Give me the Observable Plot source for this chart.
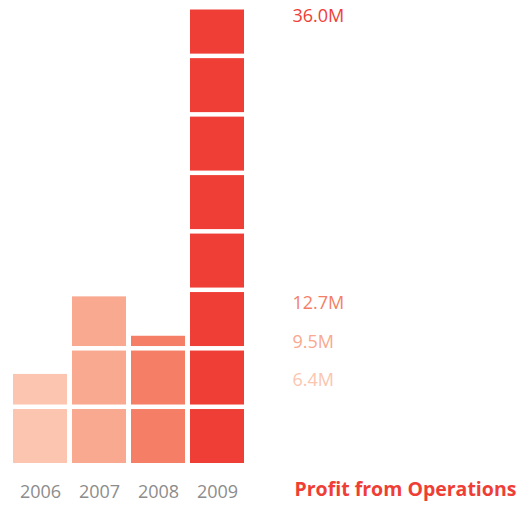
<!DOCTYPE html>
<html>
<head>
<meta charset="utf-8">
<script src="https://cdn.jsdelivr.net/npm/d3@7"></script>
<script src="https://cdn.jsdelivr.net/npm/@observablehq/plot@0.6"></script>
<style>
  html, body { margin: 0; padding: 0; background: #fff; }
  #chart { width: 523px; height: 506px; }
</style>
</head>
<body>
<div id="chart"></div>
<script>
// Data
const years = ["2006", "2007", "2008", "2009"];
const values = [6.4, 12.7, 9.5, 36.0]; // Profit from Operations, millions
const barColors = ["#fbc5b0", "#f8a98f", "#f47f66", "#ef3e36"];
const title = "Profit from Operations";

// Unit-block settings (value units)
const blockSize = 4.75;  // millions per block
const floor = -1.2;      // where block stacking starts

// Build blocks from the data
const blocks = [];
years.forEach((yr, i) => {
  const v = values[i];
  for (let k = 0; floor + k * blockSize < v; k++) {
    blocks.push({
      year: yr,
      y1: floor + k * blockSize,
      y2: Math.min(floor + (k + 1) * blockSize, v),
      color: barColors[i]
    });
  }
});

// label colours follow the value rank
const sorted = [...values].sort((a, b) => a - b);
const labels = values.map(v => ({ v, color: barColors[sorted.indexOf(v)] }));

const chart = Plot.plot({
  width: 523,
  height: 506,
  marginTop: 7.5,
  marginBottom: 40.5,
  marginLeft: 13,
  marginRight: 279,
  style: { fontFamily: "'Open Sans', sans-serif", background: "#fff" },
  x: { type: "band", domain: years, paddingInner: 0.085, paddingOuter: 0, axis: null },
  y: { domain: [floor, 36], axis: null },
  marks: [
    Plot.rectY(blocks, {
      x: "year", y1: "y1", y2: "y2", fill: "color",
      insetTop: 2, insetBottom: 2.5
    }),
    Plot.axisX({ tickSize: 0, tickPadding: 19, fontSize: 18, color: "#8c8c8c", label: null }),
    Plot.text(labels, {
      y: "v", text: d => d.v.toFixed(1) + "M", fill: "color",
      frameAnchor: "right", dx: 48, dy: 1, textAnchor: "start", lineAnchor: "top",
      fontSize: 18
    }),
    Plot.text([title], {
      frameAnchor: "bottom-right", dx: 50, dy: 30, textAnchor: "start",
      fontWeight: "bold", fontSize: 19.5, fill: "#ef3e36"
    })
  ]
});
document.getElementById("chart").appendChild(chart);
</script>
</body>
</html>
